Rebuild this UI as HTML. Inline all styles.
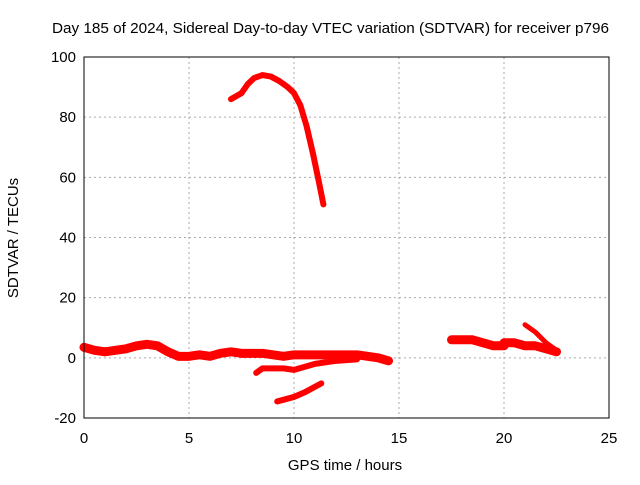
<!DOCTYPE html>
<html><head><meta charset="utf-8"><style>
body{margin:0;background:#fff}
svg text{font-family:"Liberation Sans","DejaVu Sans",sans-serif;font-size:14px;fill:#000}
</style></head><body>
<svg width="640" height="480" xmlns="http://www.w3.org/2000/svg">
<rect width="640" height="480" fill="#fff"/>
<text x="52" y="33" textLength="557" lengthAdjust="spacingAndGlyphs" style="font-size:15px">Day 185 of 2024, Sidereal Day-to-day VTEC variation (SDTVAR) for receiver p796</text>
<g id="grid"></g>
<g id="series"></g>
<rect x="84" y="57" width="525" height="361" fill="none" stroke="#000"/>
<g id="ticks"></g>
<text x="345" y="470" text-anchor="middle" style="font-size:15px">GPS time / hours</text>
<text transform="translate(18,238) rotate(-90)" text-anchor="middle" style="font-size:15px">SDTVAR / TECUs</text>
</svg>
<script>
const xTicks=[0,5,10,15,20,25];
const yTicks=[-20,0,20,40,60,80,100];
const arcX=[7.0,7.5,7.8,8.1,8.5,8.9,9.3,9.7,10.0,10.3,10.6,10.9,11.2,11.4];
const arcY=[86,88,91,93,94,93.5,92,90,88,84,77,68,58,51];
const baseX=[0,0.5,1,1.5,2,2.5,3,3.5,4,4.5,5,5.5,6,6.5,7,7.5,8,8.5,9,9.5,10,10.5,11,11.5,12,12.5,13,13.5,14,14.5];
const baseY=[3.5,2.5,2,2.5,3,4,4.5,4,2,0.5,0.5,1,0.5,1.5,2,1.5,1.5,1.5,1,0.5,1,1,1,1,1,1,1,0.5,0,-1];
const lowX=[8.2,8.5,9.5,10,10.5,11,12,13];
const lowY=[-5,-3.5,-3.5,-4,-3,-2,-1,-0.5];
const lowestX=[9.2,10,10.5,11.3];
const lowestY=[-14.5,-13,-11.5,-8.5];
const rAX=[17.5,18,18.5,19,19.5,20];
const rAY=[6,6,6,5,4,4];
const rBX=[20,20.5,21,21.5,22,22.5];
const rBY=[5,5,4,4,3,2];
const rCX=[21,21.5,22,22.5];
const rCY=[11,8.5,5,2.5];
const sx=v=>84+v*21;
const sy=v=>418-(v+20)*361/120;
const NS="http://www.w3.org/2000/svg";
const grid=document.getElementById('grid'),ticks=document.getElementById('ticks'),ser=document.getElementById('series');
function mk(t,a,p){const e=document.createElementNS(NS,t);for(const k in a)e.setAttribute(k,a[k]);p.appendChild(e);return e;}
xTicks.forEach(v=>{const x=sx(v);
 if(v>0&&v<25){const l=mk('line',{x1:x,x2:x,y1:57,y2:418,stroke:'#aaa','stroke-dasharray':'2,3'},grid);
 }
 const t=mk('text',{x:x,y:443,'text-anchor':'middle',style:'font-size:15px'},ticks);t.textContent=v;
 });
yTicks.forEach(v=>{const y=sy(v);
 if(v>-20&&v<100){const l=mk('line',{x1:84,x2:609,y1:y,y2:y,stroke:'#aaa','stroke-dasharray':'2,3'},grid);
 }
 const t=mk('text',{x:76,y:y+5,'text-anchor':'end',style:'font-size:15px'},ticks);t.textContent=v;
 });
function series(xs,ys,name,w){
 const d=xs.map((x,i)=>(i?'L':'M')+sx(x)+','+sy(ys[i])).join('');
 const p=mk('path',{d:d,fill:'none',stroke:'#f00','stroke-width':w,'stroke-linejoin':'round','stroke-linecap':'round'},ser);
 }
series(arcX,arcY,'series-high-arc',6);
series(baseX,baseY,'series-baseline',9);
series(lowX,lowY,'series-low',6);
series(lowestX,lowestY,'series-lowest',6);
series(rAX,rAY,'series-right-a',9);
series(rBX,rBY,'series-right-b',9);
series(rCX,rCY,'series-right-c',5);
</script>
</body></html>
